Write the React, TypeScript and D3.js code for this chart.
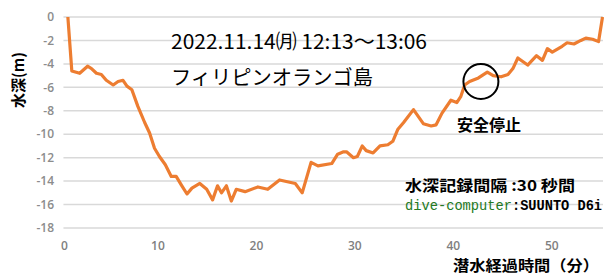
import React from 'react';
import * as d3 from 'd3';

// dive profile: elapsed minutes / depth (m)
const minutes = [
  0.85, 1.25, 2.05, 2.85, 3.25, 3.75, 4.25, 4.75, 5.45, 5.95,
  6.45, 6.85, 7.35, 7.95, 8.65, 9.15, 9.65, 10.15, 10.75, 11.35,
  11.85, 12.35, 12.95, 13.45, 14.25, 14.95, 15.55, 16.05, 16.45, 16.95,
  17.45, 17.95, 18.85, 20.15, 21.15, 22.35, 23.95, 24.65, 25.55, 26.25,
  27.65, 28.25, 28.85, 29.15, 29.85, 30.25, 30.75, 31.15, 31.85, 32.55,
  33.35, 33.85, 34.35, 34.95, 35.95, 36.95, 37.75, 38.25, 38.85, 39.75,
  40.35, 40.75, 41.15, 41.65, 42.55, 43.45, 44.05, 44.85, 45.55, 46.05,
  46.55, 47.55, 48.45, 49.05, 49.55, 50.05, 51.05, 51.55, 52.25, 52.95,
  53.45, 54.15, 54.75, 55.15,
];
const depths = [
  0, -4.6, -4.8, -4.2, -4.4, -4.8, -4.9, -5.4, -5.8, -5.5,
  -5.4, -5.9, -6.2, -7.6, -9.0, -9.9, -11.2, -11.9, -12.6, -13.6,
  -13.6, -14.3, -15.1, -14.6, -14.2, -14.7, -15.6, -14.4, -15.0, -14.4,
  -15.7, -14.7, -14.9, -14.5, -14.7, -13.9, -14.2, -15.0, -12.4, -12.7,
  -12.5, -11.7, -11.5, -11.5, -12.0, -11.9, -11.0, -11.4, -11.6, -11.0,
  -10.9, -10.6, -9.6, -9.0, -7.9, -9.1, -9.3, -9.2, -8.2, -7.1,
  -7.3, -6.8, -5.8, -5.5, -5.2, -4.7, -5.0, -5.1, -4.9, -4.4,
  -3.5, -4.1, -3.3, -3.7, -2.7, -3.0, -2.5, -2.2, -2.3, -2.0,
  -1.8, -1.9, -2.1, 0,
];
const xTicks = [0, 10, 20, 30, 40, 50];
const yTicks = [0, -2, -4, -6, -8, -10, -12, -14, -16, -18];

// safety stop marker (minute, depth)
const safetyStop = { t: 42.8, d: -5.5 };

const jp = '"Noto Sans CJK JP", sans-serif';
const mono = "'Liberation Mono', monospace";

export default function App() {
  const x = d3.scaleLinear().domain([0, 55.2]).range([59.5, 603]);
  const y = d3.scaleLinear().domain([-18, 0]).range([228, 17]);

  const points: [number, number][] = minutes.map((m, i) => [m, depths[i]]);
  const line = d3.line<[number, number]>()
    .x(d => x(d[0]))
    .y(d => y(d[1]));

  return (
    <svg width={606} height={275} style={{ position: 'absolute', left: 0, top: 0, background: '#fff' }}>
      {yTicks.map(t => (
        <g key={t}>
          <line x1={x(0.4)} x2={x(55.2)} y1={y(t)} y2={y(t)} stroke="#d9d9d9" strokeWidth={1.5} />
          <text x={54} y={y(t)} dy="0.35em" textAnchor="end" fontFamily="'Open Sans', sans-serif"
            fontSize={12} fontWeight={600} fill="#8c8c8c">{t}</text>
        </g>
      ))}
      {xTicks.map(t => (
        <text key={t} x={x(t) + (t === 0 ? 5 : 0)} y={250} textAnchor="middle" fontFamily="'Open Sans', sans-serif"
          fontSize={12} fontWeight={600} fill="#7f7f7f">{t}</text>
      ))}

      <path d={line(points) ?? ''} fill="none" stroke="#ed7d31" strokeWidth={3.2} strokeLinejoin="round" />

      <circle cx={x(safetyStop.t)} cy={y(safetyStop.d)} r={17.5} fill="none" stroke="#000" strokeWidth={2} />
      <text x={457} y={131} fontFamily={jp} fontSize={16} fontWeight="bold" fill="#000">安全停止</text>

      <text transform="translate(24,80) rotate(-90)" textAnchor="middle" fontFamily={jp}
        fontSize={15} fontWeight="bold" fill="#000">水深(m)</text>
      <text x={453} y={271} fontFamily={jp} fontSize={15} fontWeight="bold" fill="#000" textLength={146} lengthAdjust="spacingAndGlyphs">潜水経過時間（分）</text>

      <text x={171} y={49} fontFamily={jp} fontSize={20} fill="#000" textLength={256} lengthAdjust="spacingAndGlyphs">
        2022.11.14㈪ 12:13～13:06
      </text>
      <text x={171} y={85} fontFamily={jp} fontSize={20} fill="#000" textLength={202} lengthAdjust="spacingAndGlyphs">
        フィリピンオランゴ島
      </text>

      <text x={405} y={191} fontFamily={jp} fontSize={15} fontWeight="bold" fill="#000" textLength={170} lengthAdjust="spacingAndGlyphs">
        水深記録間隔 :30 秒間
      </text>
      <text x={405} y={210} fontFamily={mono} fontSize={14} fill="#237a23" textLength={107} lengthAdjust="spacingAndGlyphs">
        dive-computer
      </text>
      <text x={512} y={210} fontFamily={mono} fontSize={14} fontWeight="bold" fill="#000" textLength={90} lengthAdjust="spacingAndGlyphs">
        :SUUNTO D6i
      </text>
    </svg>
  );
}
